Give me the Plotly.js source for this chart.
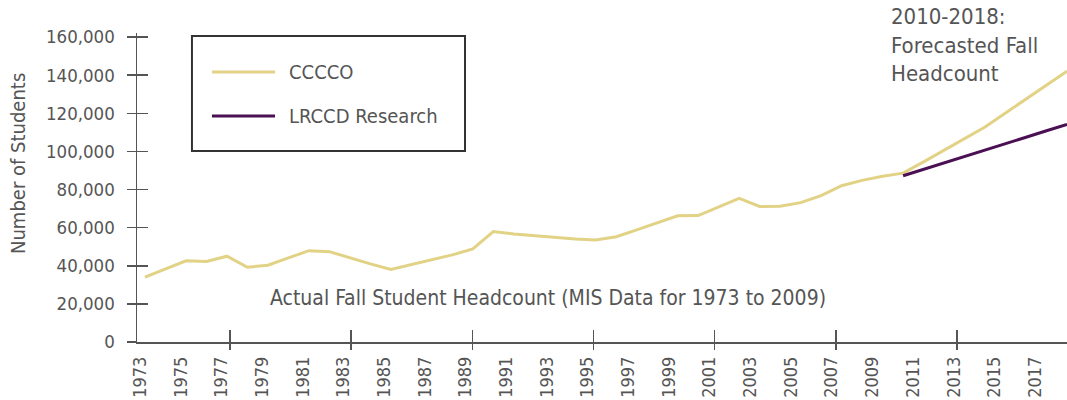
<!DOCTYPE html>
<html>
<head>
<meta charset="utf-8">
<script src="https://cdn.plot.ly/plotly-3.0.1.min.js"></script>
<style>html,body{margin:0;padding:0;background:#fff;}</style>
</head>
<body>
<div id="chart" style="width:1067px;height:400px;"></div>
<script>
// ---- data ----
const years = [1973,1974,1975,1976,1977,1978,1979,1980,1981,1982,1983,1984,1985,1986,1987,1988,1989,1990,1991,1992,1993,1994,1995,1996,1997,1998,1999,2000,2001,2002,2003,2004,2005,2006,2007,2008,2009,2010,2011,2012,2013,2014,2015,2016,2017,2018];
const cccco = [34000,38300,42600,42200,45000,39200,40300,44100,47900,47400,44100,41000,38000,40600,42900,45700,48800,57900,56700,55700,54800,54000,53500,55200,58800,62500,66200,66300,70800,75300,71100,71250,73100,76800,82000,84800,86900,88600,94500,100600,106700,112800,120100,127400,134700,142100];
const forecastYears = [2010,2011,2012,2013,2014,2015,2016,2017,2018];
const lrccd = [87200,90500,93900,97300,100700,104000,107400,110800,114200];
const seriesNames = ["CCCCO", "LRCCD Research"];
const xLabelYears = [1973,1975,1977,1979,1981,1983,1985,1987,1989,1991,1993,1995,1997,1999,2001,2003,2005,2007,2009,2011,2013,2015,2017];
const xMajorTicks = [1977,1983,1989,1995,2001,2007,2013];
const yTicks = [0,20000,40000,60000,80000,100000,120000,140000,160000];
const yTitle = "Number of Students";
const actualNote = "Actual Fall Student Headcount (MIS Data for 1973 to 2009)";
const forecastNote = "2010-2018:<br>Forecasted Fall<br>Headcount";

// ---- style ----
const FONT = '"DejaVu Sans Condensed", "DejaVu Sans", sans-serif';
const TXT = '#555555';
const AX = '#555555';
const colors = ['#E2D286', '#4B0F53'];

const traces = [
  {type:'scatter', mode:'lines', x: years, y: cccco, name: seriesNames[0],
   line:{color: colors[0], width: 3}, showlegend:false, hoverinfo:'skip'},
  {type:'scatter', mode:'lines', x: forecastYears, y: lrccd, name: seriesNames[1],
   line:{color: colors[1], width: 3}, showlegend:false, hoverinfo:'skip'},
  {type:'scatter', x:[], y:[], xaxis:'x2', yaxis:'y', showlegend:false, hoverinfo:'skip'},
  {type:'scatter', x:[], y:[], xaxis:'x3', yaxis:'y', showlegend:false, hoverinfo:'skip'},
  {type:'scatter', x:[], y:[], xaxis:'x4', yaxis:'y', showlegend:false, hoverinfo:'skip'},
  {type:'scatter', x:[], y:[], xaxis:'x', yaxis:'y2', showlegend:false, hoverinfo:'skip'}
];

const yRange = [0, 162100];
const layout = {
  width: 1067, height: 400,
  margin: {l:137, r:0, t:33, b:58, pad:0},
  paper_bgcolor:'#ffffff', plot_bgcolor:'#ffffff',
  font: {family: FONT, color: TXT, size: 18},
  showlegend: false,
  xaxis: {range:[1972.61, 2018.0], showline:true, linecolor:AX, linewidth:1.5,
          ticks:'', showticklabels:false, showgrid:false, zeroline:false},
  xaxis2: {overlaying:'x', anchor:'y', range:[1972.85, 2018.57], tickmode:'array', tickvals:xLabelYears,
           ticktext: xLabelYears.map(String), tickangle:-90, ticks:'', showline:false, showgrid:false,
           zeroline:false, ticklabelstandoff:10, tickfont:{family:FONT, size:18, color:TXT}},
  xaxis3: {overlaying:'x', anchor:'y', range:[1972.39, 2018.45], tickmode:'array', tickvals:xMajorTicks,
           ticks:'outside', ticklen:7, tickwidth:1.5, tickcolor:AX, showticklabels:false,
           showline:false, showgrid:false, zeroline:false},
  xaxis4: {overlaying:'x', anchor:'y', range:[1972.39, 2018.45], tickmode:'array', tickvals:xMajorTicks,
           ticks:'inside', ticklen:12, tickwidth:1.5, tickcolor:AX, showticklabels:false,
           showline:false, showgrid:false, zeroline:false},
  yaxis: {range:yRange, tickmode:'array', tickvals:yTicks, tickformat:',', ticks:'outside', ticklen:9,
          tickwidth:1.5, tickcolor:AX, showline:true, linecolor:AX, linewidth:1.5, showgrid:false,
          zeroline:false, ticklabelstandoff:8, tickfont:{family:FONT, size:18.5, color:TXT}},
  yaxis2: {overlaying:'y', anchor:'x', side:'left', range:yRange, tickmode:'array', tickvals:yTicks,
           ticks:'inside', ticklen:11, tickwidth:1.5, tickcolor:AX, showticklabels:false,
           showline:false, showgrid:false, zeroline:false},
  shapes: [
    {type:'rect', xref:'paper', yref:'paper', x0:0.0591, x1:0.3527, y0:0.6181, y1:0.9903,
     line:{color:'#333333', width:2}, fillcolor:'rgba(255,255,255,0)'},
    {type:'line', xref:'paper', yref:'paper', x0:0.0806, x1:0.1484, y0:0.8738, y1:0.8738,
     line:{color:colors[0], width:3}},
    {type:'line', xref:'paper', yref:'paper', x0:0.0806, x1:0.1484, y0:0.7314, y1:0.7314,
     line:{color:colors[1], width:3}}
  ],
  annotations: [
    {xref:'paper', yref:'paper', x:0.1613, y:0.8738, xanchor:'left', yanchor:'middle', showarrow:false,
     text:seriesNames[0], font:{family:FONT, size:20, color:TXT}},
    {xref:'paper', yref:'paper', x:0.1613, y:0.7314, xanchor:'left', yanchor:'middle', showarrow:false,
     text:seriesNames[1], font:{family:FONT, size:20, color:TXT}},
    {xref:'paper', yref:'paper', x:0.4414, y:0.1424, xanchor:'center', yanchor:'middle', showarrow:false,
     text:actualNote, font:{family:FONT, size:21, color:TXT}},
    {xref:'paper', yref:'paper', x:(889-137)/930, y:(342-2)/309, xanchor:'left', yanchor:'top', showarrow:false,
     align:'left', text:forecastNote, font:{family:FONT, size:22, color:TXT}},
    {xref:'paper', yref:'paper', x:(18-137)/930, y:(342-164)/309, xanchor:'center', yanchor:'middle',
     showarrow:false, textangle:-90, text:yTitle, font:{family:FONT, size:20, color:TXT}}
  ]
};

Plotly.newPlot('chart', traces, layout, {staticPlot:true, displayModeBar:false});
</script>
</body>
</html>
